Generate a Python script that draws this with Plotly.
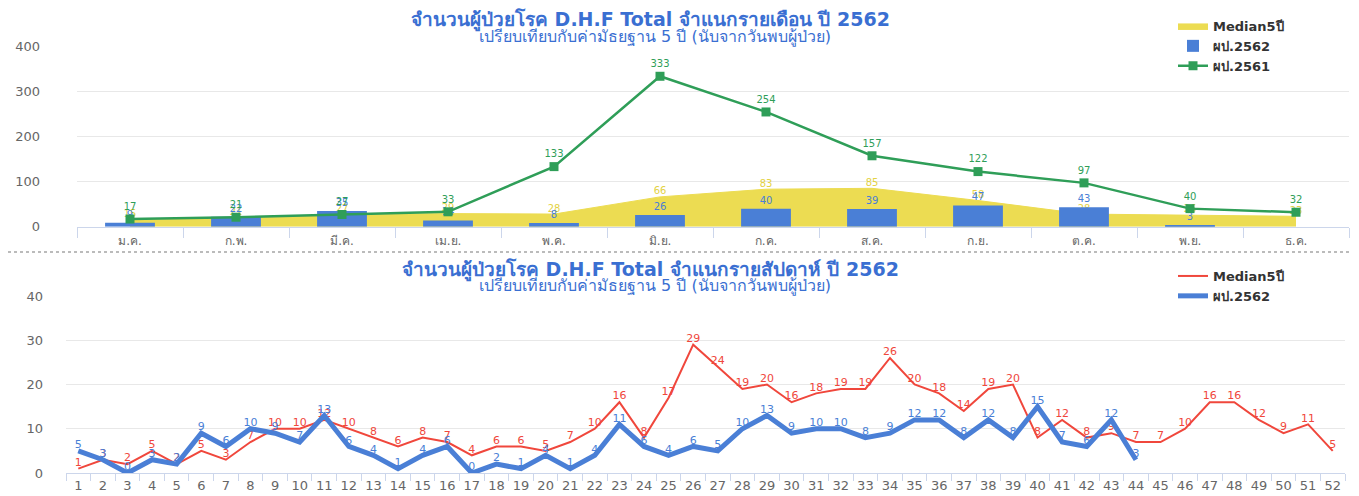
import plotly.graph_objects as go

months = ["ม.ค.", "ก.พ.", "มี.ค.", "เม.ย.", "พ.ค.", "มิ.ย.", "ก.ค.", "ส.ค.", "ก.ย.", "ต.ค.", "พ.ย.", "ธ.ค."]
median_month = [15, 21, 27, 29, 28, 66, 83, 85, 58, 28, 26, 23]
cases_2562_month = [9, 22, 35, 14, 8, 26, 40, 39, 47, 43, 3, None]
cases_2561_month = [17, 21, 27, 33, 133, 333, 254, 157, 122, 97, 40, 32]

weeks = [str(i) for i in range(1, 53)]
median_week = [1, 3, 2, 5, 2, 5, 3, 7, 10, 10, 12, 10, 8, 6, 8, 7, 4, 6, 6, 5,
               7, 10, 16, 8, 17, 29, 24, 19, 20, 16, 18, 19, 19, 26, 20, 18, 14, 19, 20, 8,
               12, 8, 9, 7, 7, 10, 16, 16, 12, 9, 11, 5]
cases_2562_week = [5, 3, 0, 3, 2, 9, 6, 10, 9, 7, 13, 6, 4, 1, 4, 6, 0, 2, 1, 4,
                   1, 4, 11, 6, 4, 6, 5, 10, 13, 9, 10, 10, 8, 9, 12, 12, 8, 12, 8, 15,
                   7, 6, 12, 3]

OFF = 8  # default body margin of the html page
W, H = 1359 - OFF, 496 - OFF
FONT = "Tahoma, 'DejaVu Sans', 'Noto Sans', sans-serif"
YELLOW = "#ecdc52"
BLUE = "#4a7fd6"
GREEN = "#2f9e58"
RED = "#f0473c"
TITLE_BLUE = "#3a6fd2"
AXIS_C = "#ccd6eb"
GRID_C = "#e8e8e8"
TICK_C = "#666666"

def px_x(x):
    return (x - OFF) / W

def px_y(y):
    return 1 - (y - OFF) / H

def lbl(v):
    return ["" if a is None else str(a) for a in v]

fig = go.Figure()

# ---- Top chart (monthly) ----
fig.add_trace(go.Scatter(
    x=months, y=median_month, name="Median5ปี", mode="lines+text",
    fill="tozeroy", fillcolor=YELLOW, line=dict(color=YELLOW, width=1),
    text=lbl(median_month), textposition="top center",
    textfont=dict(color="#e3d244", size=10, family=FONT),
    xaxis="x", yaxis="y", legend="legend", cliponaxis=False))
fig.add_trace(go.Bar(
    x=months, y=cases_2562_month, name="ผป.2562", marker=dict(color=BLUE, line=dict(width=0)),
    width=0.47, text=lbl(cases_2562_month), textposition="outside",
    textfont=dict(color=BLUE, size=10, family=FONT), cliponaxis=False,
    xaxis="x", yaxis="y3", legend="legend"))
fig.add_trace(go.Scatter(
    x=months, y=cases_2561_month, name="ผป.2561", mode="lines+markers+text",
    line=dict(color=GREEN, width=2.5), marker=dict(symbol="square", size=9, color=GREEN),
    text=lbl(cases_2561_month), textposition="top center",
    textfont=dict(color=GREEN, size=10, family=FONT), cliponaxis=False,
    xaxis="x", yaxis="y4", legend="legend"))

# ---- Bottom chart (weekly) ----
fig.add_trace(go.Scatter(
    x=weeks, y=median_week, name="Median5ปี", mode="lines+text",
    line=dict(color=RED, width=2),
    text=lbl(median_week), textposition="top center",
    textfont=dict(color=RED, size=11, family=FONT), cliponaxis=False,
    xaxis="x2", yaxis="y2", legend="legend2"))
fig.add_trace(go.Scatter(
    x=weeks[:len(cases_2562_week)], y=cases_2562_week, name="ผป.2562", mode="lines+text",
    line=dict(color=BLUE, width=5),
    text=lbl(cases_2562_week), textposition="top center",
    textfont=dict(color=BLUE, size=11, family=FONT), cliponaxis=False,
    xaxis="x2", yaxis="y2", legend="legend2"))

xcommon = dict(type="category", tickson="boundaries", ticks="outside", tickangle=0,
               tickcolor=AXIS_C, showline=True, linecolor=AXIS_C, linewidth=1,
               showgrid=False, zeroline=False, automargin=False)
ycommon = dict(showline=False, zeroline=False, gridcolor=GRID_C, gridwidth=1,
               tickfont=dict(size=13, color=TICK_C, family=FONT), automargin=False)

legfont = dict(size=13, color="#333333", family=FONT, weight="bold")

fig.update_layout(
    width=W, height=H,
    margin=dict(l=0, r=0, t=0, b=0),
    paper_bgcolor="white", plot_bgcolor="white",
    font=dict(family=FONT, color="#333333"),
    showlegend=True,
    xaxis=dict(domain=[px_x(77), px_x(1349)], range=[-0.5, 11.5], anchor="y",
               categoryorder="array", categoryarray=months, ticklen=10, ticklabelstandoff=3,
               tickfont=dict(size=12, color=TICK_C, family=FONT), **xcommon),
    yaxis=dict(domain=[px_y(226.7), px_y(46)], range=[0, 400], tickvals=[0, 100, 200, 300, 400],
               anchor="x", ticklabelstandoff=36, **ycommon),
    yaxis3=dict(overlaying="y", range=[0, 400], visible=False, anchor="x"),
    yaxis4=dict(overlaying="y", range=[0, 400], visible=False, anchor="x"),
    xaxis2=dict(domain=[px_x(66), px_x(1345)], range=[-0.5, 51.5], anchor="y2",
                categoryorder="array", categoryarray=weeks, ticklen=7,
                tickfont=dict(size=13, color=TICK_C, family=FONT), **xcommon),
    yaxis2=dict(domain=[px_y(473), px_y(296)], range=[0, 40], tickvals=[0, 10, 20, 30, 40],
                anchor="x2", ticklabelstandoff=22, **ycommon),
    legend=dict(x=px_x(1173), y=px_y(11), xanchor="left", yanchor="top",
                bgcolor="rgba(0,0,0,0)", font=legfont, itemwidth=30, tracegroupgap=0),
    legend2=dict(x=px_x(1173), y=px_y(261), xanchor="left", yanchor="top",
                 bgcolor="rgba(0,0,0,0)", font=legfont, itemwidth=30, tracegroupgap=0),
    shapes=[dict(type="line", xref="paper", yref="paper", x0=0, x1=1,
                 y0=px_y(252), y1=px_y(252), line=dict(color="#bbbbbb", width=2, dash="dot"))],
    annotations=[
        dict(text="<b>จำนวนผู้ป่วยโรค D.H.F Total จำแนกรายเดือน ปี 2562</b>", x=px_x(650), y=px_y(20),
             xref="paper", yref="paper", showarrow=False, xanchor="center", yanchor="middle",
             font=dict(size=19, color=TITLE_BLUE, family=FONT)),
        dict(text="เปรียบเทียบกับค่ามัธยฐาน 5 ปี (นับจากวันพบผู้ป่วย)", x=px_x(655), y=px_y(37),
             xref="paper", yref="paper", showarrow=False, xanchor="center", yanchor="middle",
             font=dict(size=16, color=TITLE_BLUE, family=FONT)),
        dict(text="<b>จำนวนผู้ป่วยโรค D.H.F Total จำแนกรายสัปดาห์ ปี 2562</b>", x=px_x(650), y=px_y(270),
             xref="paper", yref="paper", showarrow=False, xanchor="center", yanchor="middle",
             font=dict(size=19, color=TITLE_BLUE, family=FONT)),
        dict(text="เปรียบเทียบกับค่ามัธยฐาน 5 ปี (นับจากวันพบผู้ป่วย)", x=px_x(655), y=px_y(286),
             xref="paper", yref="paper", showarrow=False, xanchor="center", yanchor="middle",
             font=dict(size=16, color=TITLE_BLUE, family=FONT)),
    ],
)

fig.write_html("out.html")
